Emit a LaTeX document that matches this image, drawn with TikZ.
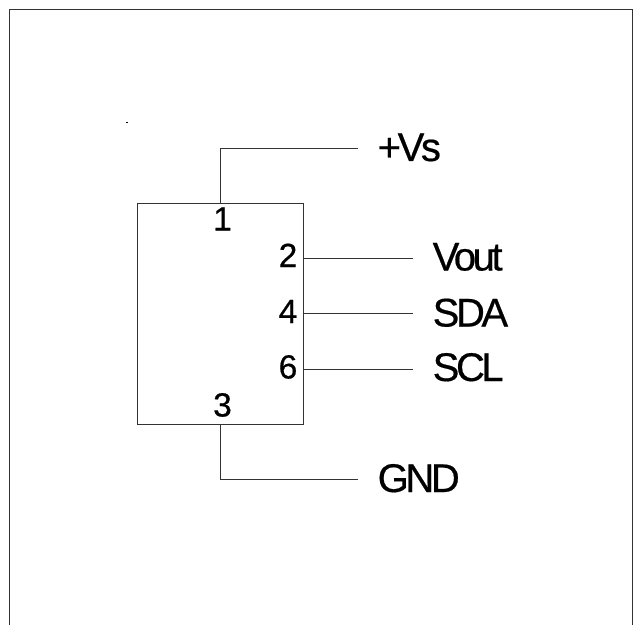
\documentclass[tikz,border=0pt]{standalone}
\usepackage{fontspec}
\setmainfont{Liberation Sans}
\newfontfamily\tightfont[LetterSpace=-8.5,FakeBold=0.5]{Liberation Sans}
\newfontfamily\digitfont[FakeBold=0.5]{Liberation Sans}
\usetikzlibrary{calc,positioning}
\tikzset{
  wire/.style = {line width = 0.9pt, color = black!80},
  pinnum/.style = {anchor = base, inner sep = 0pt, font = \digitfont\fontsize{33.5}{33.5}\selectfont},
  pinlabel/.style = {anchor = base west, inner xsep = 19.5pt, inner ysep = 0pt, font = \tightfont\fontsize{40}{40}\selectfont}
}

\begin{document}
\begin{tikzpicture}[x = 1pt, y = 1pt]
\useasboundingbox (0,0) rectangle (634,625);
\draw[wire] (9,0) -- (9,616) -- (632.5,616) -- (632.5,0);
\fill (126,502) rectangle (128,503);
\node[draw, wire, rectangle, minimum width = 166pt, minimum height = 221pt, inner sep = 0pt, outer sep = 0pt] (chip) at (220,311.5) {};
\coordinate (p2) at (chip.east |- 0,367);
\coordinate (p4) at (chip.east |- 0,312);
\coordinate (p6) at (chip.east |- 0,256);
\coordinate (top) at (220,477);
\coordinate (bot) at (220,146);
\node[pinnum] (n1) at (222.5,394.5) {1};
\node[pinnum] (n2) at (288,358) {2};
\node[pinnum] (n4) at (288,302) {4};
\node[pinnum] (n6) at (288,246.5) {6};
\node[pinnum] (n3) at (222.5,208.5) {3};
\node[pinlabel] (Vs) at (358,464) {+Vs};
\node[pinlabel] (Vout) at (413,354.5) {Vout};
\node[pinlabel] (SDA) at (413,298.5) {SDA};
\node[pinlabel] (SCL) at (413,244) {SCL};
\node[pinlabel] (GND) at (358,133) {GND};
\draw[wire] (chip.north) -- (top) -- (top -| Vs.west);
\draw[wire] (chip.south) -- (bot) -- (bot -| GND.west);
\draw[wire] (p2) -- (p2 -| Vout.west);
\draw[wire] (p4) -- (p4 -| SDA.west);
\draw[wire] (p6) -- (p6 -| SCL.west);
\end{tikzpicture}
\end{document}
